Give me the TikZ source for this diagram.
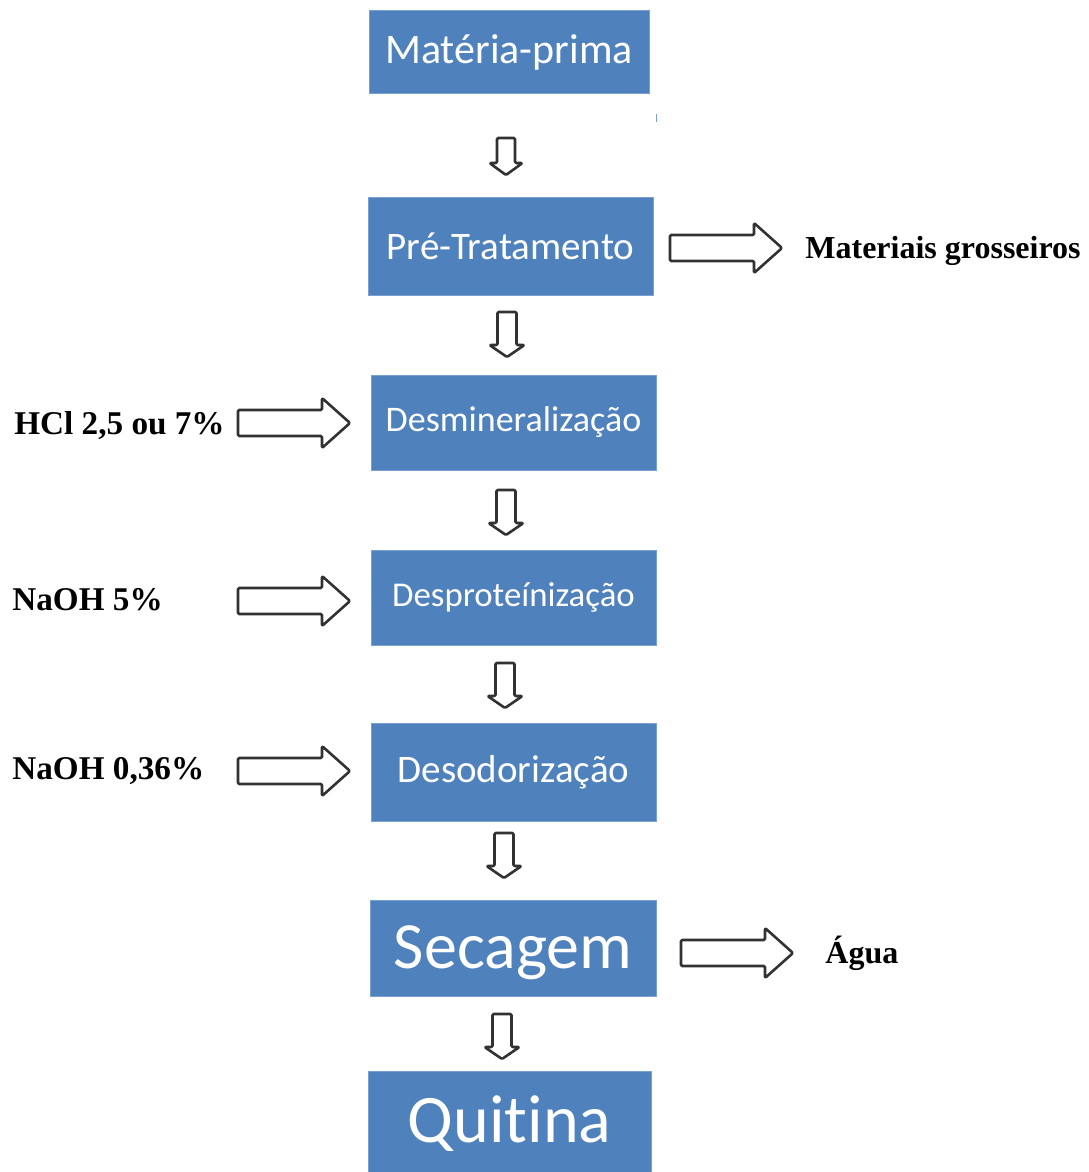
\documentclass[tikz,border=0pt]{standalone}
\usepackage{fontspec}
\setmainfont{Liberation Serif}
\newfontfamily\boxfont[Ligatures=NoCommon]{Carlito}
\definecolor{stepblue}{RGB}{79,129,189}
\definecolor{stepedge}{RGB}{120,160,210}
\definecolor{arrowgray}{RGB}{50,50,50}
\begin{document}
\begin{tikzpicture}[x=0.5pt,y=-0.5pt,
  stepbox/.style={fill=stepblue,draw=stepedge,line width=0.5pt,text=white,
    inner sep=0pt,font=\boxfont},
  sidelabel/.style={anchor=west,inner sep=0pt,font=\bfseries\fontsize{16.6}{19}\selectfont},
  hollow/.style={draw=arrowgray,line width=1.3pt,fill=white,rounded corners=0.6pt,line join=round},
  downarrow/.pic={\draw[hollow] (-9.5,0) -- (9.5,0) -- (9.5,33) -- (17.5,33) -- (0,45)
      -- (-17.5,33) -- (-9.5,33) -- cycle;},
  shortdownarrow/.pic={\draw[hollow] (-9,0) -- (9,0) -- (9,25) -- (16.5,25) -- (0,37)
      -- (-16.5,25) -- (-9,25) -- cycle;},
  rightarrow/.pic={\draw[hollow] (0,-13) -- (84,-13) -- (84,-25) -- (112,0) -- (84,25)
      -- (84,13) -- (0,13) -- cycle;}]
  \useasboundingbox (0,0) rectangle (1088,1172);
  \fill[white] (0,0) rectangle (1088,1172);
  \begin{scope}
  \clip (0,0) rectangle (1088,1172);

  % process steps
  \node[stepbox,minimum width=140pt,minimum height=41.5pt,font=\boxfont\fontsize{21}{24}\selectfont]
    (mp) at (509,52.5) {Matéria-prima};
  \node[stepbox,minimum width=142.5pt,minimum height=49pt,font=\boxfont\fontsize{19.5}{22}\selectfont]
    (pre) at (510.5,246) {Pré-Tratamento};
  \node[stepbox,minimum width=142.5pt,minimum height=47.5pt,font=\boxfont\fontsize{18}{21}\selectfont]
    (desm) at (513.5,422.5) {Desmineralização};
  \node[stepbox,minimum width=142.5pt,minimum height=47.5pt,font=\boxfont\fontsize{17.4}{20}\selectfont]
    (desp) at (513.5,597.5) {Desproteínização};
  \node[stepbox,minimum width=142.5pt,minimum height=49pt,font=\boxfont\fontsize{19.5}{22}\selectfont]
    (deso) at (513.5,772) {Desodorização};
  \node[stepbox,minimum width=143pt,minimum height=48pt,text height=20pt,text depth=0pt,
    font=\boxfont\fontsize{33}{36}\selectfont] (sec) at (513,948) {Secagem};
  \node[stepbox,minimum width=141.5pt,minimum height=53pt,font=\boxfont\fontsize{34}{38}\selectfont]
    (qui) at (509.5,1124) {Quitina};

  % side inputs and outputs
  \node[sidelabel,font=\bfseries\fontsize{16}{18}\selectfont] (grosso) at (805,251) {Materiais grosseiros};
  \node[sidelabel] (hcl) at (14,426) {HCl 2,5 ou 7\%};
  \node[sidelabel] (naoh5) at (12,600) {NaOH 5\%};
  \node[sidelabel] (naoh036) at (12,771) {NaOH 0,36\%};
  \node[sidelabel,font=\bfseries\fontsize{16}{18}\selectfont] (agua) at (825,953) {Água};

  % flow arrows between steps
  \coordinate (d1) at (506,138);
  \coordinate (d2) at (507,312);
  \coordinate (d3) at (506,490);
  \coordinate (d4) at (505,663);
  \coordinate (d5) at (504,833);
  \coordinate (d6) at (502,1014);
  \pic at (d1) {shortdownarrow};
  \foreach \c in {d2,d3,d4,d5,d6} \pic at (\c) {downarrow};

  % side arrows
  \coordinate (r1) at (670,248);
  \coordinate (r2) at (238,423);
  \coordinate (r3) at (238,601);
  \coordinate (r4) at (238,771);
  \coordinate (r5) at (681,953);
  \foreach \c in {r1,r2,r3,r4,r5} \pic at (\c) {rightarrow};

  % stray mark
  \draw[stepedge,line width=0.8pt] (656.5,114) -- (656.5,122);
  \end{scope}
\end{tikzpicture}
\end{document}
